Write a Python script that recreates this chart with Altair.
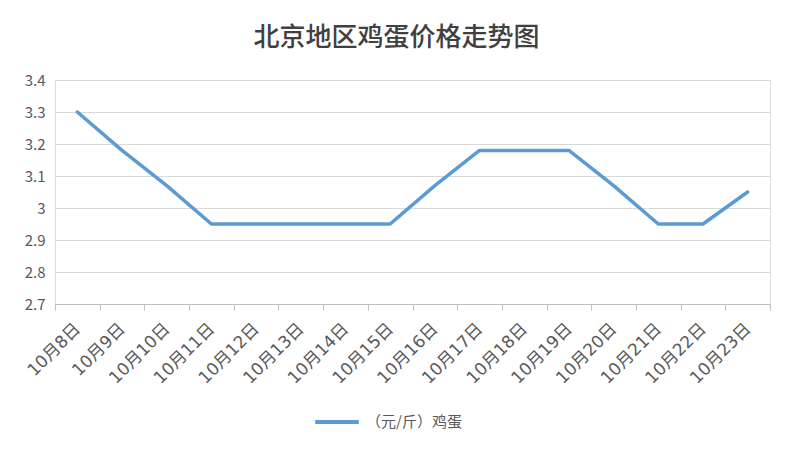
import altair as alt
import pandas as pd

dates = ["10月8日", "10月9日", "10月10日", "10月11日", "10月12日", "10月13日",
         "10月14日", "10月15日", "10月16日", "10月17日", "10月18日", "10月19日",
         "10月20日", "10月21日", "10月22日", "10月23日"]
prices = [3.30, 3.18, 3.07, 2.95, 2.95, 2.95, 2.95, 2.95, 3.07, 3.18, 3.18, 3.18,
          3.07, 2.95, 2.95, 3.05]
series_name = "（元/斤）鸡蛋"
y_ticks = [2.7, 2.8, 2.9, 3.0, 3.1, 3.2, 3.3, 3.4]

df = pd.DataFrame({"date": dates, "price": prices, "series": series_name})

FONT = "Noto Sans CJK SC"
XFONT = "DejaVu Sans, Noto Sans CJK SC"
GRAY = "#595959"

chart = alt.Chart(df).mark_line(strokeWidth=3.5, strokeCap="round", strokeJoin="round").encode(
    x=alt.X("date:N", sort=dates, bandPosition=0.5,
            scale=alt.Scale(type="band", paddingInner=0, paddingOuter=0),
            axis=alt.Axis(title=None, labelAngle=-45, labelAlign="right", labelBaseline="middle",
                          labelPadding=16, labelFontSize=17, labelColor=GRAY,
                          labelFont=XFONT,
                          domainColor="#BFBFBF", domainWidth=1, tickColor="#BFBFBF",
                          tickSize=6, tickBand="extent", grid=False)),
    y=alt.Y("price:Q", scale=alt.Scale(domain=[2.7, 3.4], nice=False, zero=False),
            axis=alt.Axis(title=None, values=y_ticks, format="~g", domain=False, ticks=False,
                          labelPadding=10, labelFontSize=15, labelColor=GRAY, labelFont=FONT,
                          gridColor="#D9D9D9", gridWidth=1)),
    color=alt.Color("series:N", scale=alt.Scale(range=["#5B9BD5"]),
                    legend=alt.Legend(title=None, orient="none", legendX=258, legendY=318,
                                      symbolType="stroke", symbolSize=1900, symbolStrokeWidth=4,
                                      labelFontSize=15, labelColor=GRAY, labelFont=FONT,
                                      labelOffset=5)),
).properties(
    width=715, height=224,
    title=alt.TitleParams("北京地区鸡蛋价格走势图", anchor="middle", dx=-16, offset=22,
                          fontSize=26, font=FONT, fontWeight=500, color="#404040"),
    autosize=alt.AutoSizeParams(type="none"),
    padding={"left": 47, "top": 72, "right": 16, "bottom": 140},
).configure_view(stroke=None).configure(background="white")

chart.save("out.html", embed_options={"renderer": "svg", "actions": False})
